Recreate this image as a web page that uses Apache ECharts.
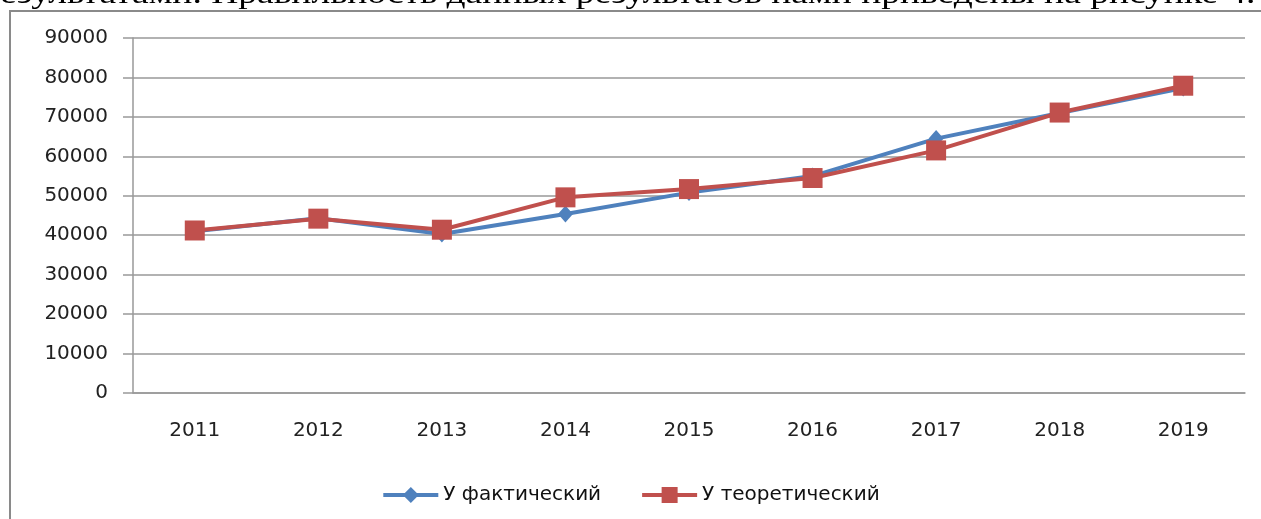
<!DOCTYPE html>
<html>
<head>
    <meta charset="utf-8">
    <title>ECharts</title>
    <script src="https://cdn.jsdelivr.net/npm/echarts@6/dist/echarts.min.js"></script>
</head>
<body style="margin:0">
<div id="main" style="width: 1261px;height:519px;"></div>
<script type="text/javascript">
    // данные графика
    const years = ['2011', '2012', '2013', '2014', '2015', '2016', '2017', '2018', '2019'];
    const yFact = [41000, 44300, 40300, 45400, 50800, 55000, 64500, 71000, 77300];
    const yTheor = [41200, 44200, 41400, 49600, 51700, 54500, 61500, 71100, 77900];
    const seriesNames = ['У фактический', 'У теоретический'];
    const captionText = 'езультатами. Правильность данных результатов нами приведены на рисунке 4.';

    const myChart = echarts.init(document.getElementById('main'));

    const font = 'DejaVu Sans';
    const option = {
        animation: false,
        backgroundColor: '#fff',
        graphic: [
            {
                // обрезанная строка текста над диаграммой
                type: 'text', x: 0, y: -20, scaleX: 1.25,
                style: {text: captionText, font: '30px "Liberation Serif"', fill: '#000'}
            },
            {
                type: 'rect', shape: {x: 10, y: 11, width: 1400, height: 700},
                style: {fill: 'none', stroke: '#8a8a8a', lineWidth: 2}
            }
        ],
        grid: {left: 133, right: 16, top: 38, bottom: 126},
        legend: {
            data: seriesNames,
            bottom: 9,
            left: 'center',
            itemWidth: 55,
            itemHeight: 20,
            itemGap: 39,
            lineStyle: {width: 4},
            textStyle: {fontFamily: font, fontSize: 20, color: '#111'}
        },
        xAxis: {
            type: 'category',
            data: years,
            boundaryGap: true,
            axisLine: {lineStyle: {color: '#999', width: 1.5}},
            axisTick: {length: 7, lineStyle: {color: '#999', width: 1.5}},
            axisLabel: {fontFamily: font, fontSize: 20, color: '#222', margin: 28}
        },
        yAxis: {
            type: 'value',
            min: 0, max: 90000, interval: 10000,
            axisLine: {show: true, lineStyle: {color: '#999', width: 1.5}},
            axisTick: {show: true, length: 10, lineStyle: {color: '#999', width: 1.5}},
            splitLine: {lineStyle: {color: '#999', width: 1.5}},
            axisLabel: {
                fontFamily: font, fontSize: 20, color: '#222', margin: 25,
                formatter: function (v) { return String(v); }
            }
        },
        series: [
            {
                name: seriesNames[0], type: 'line', data: yFact,
                symbol: 'diamond', symbolSize: [15, 17],
                lineStyle: {color: '#4F81BD', width: 4},
                itemStyle: {color: '#4F81BD'}
            },
            {
                name: seriesNames[1], type: 'line', data: yTheor,
                symbol: 'rect', symbolSize: 20,
                lineStyle: {color: '#C0504D', width: 4},
                itemStyle: {color: '#C0504D'}
            }
        ]
    };

    myChart.setOption(option);
</script>
</body>
</html>
